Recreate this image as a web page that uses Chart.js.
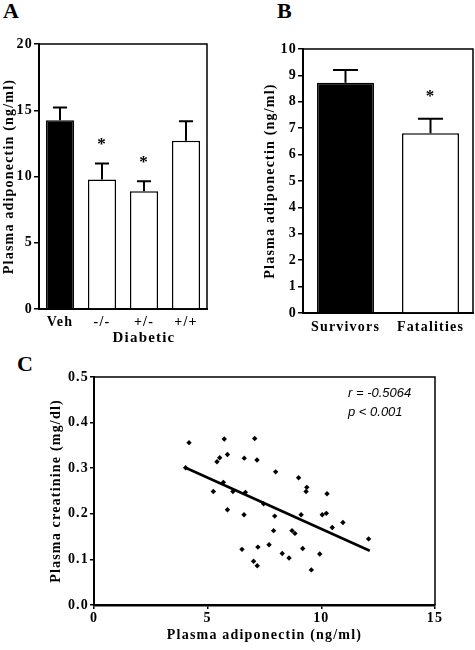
<!DOCTYPE html>
<html>
<head>
<meta charset="utf-8">
<script src="https://cdn.jsdelivr.net/npm/chart.js@4.4.0/dist/chart.umd.min.js"></script>
<style>
body { margin: 0; background: #fff; width: 475px; height: 650px; position: relative; overflow: hidden; }
canvas { position: absolute; }
.lbl { position: absolute; font: bold 22px 'Liberation Serif', serif; line-height: 22px; }
</style>
</head>
<body>
<div class="lbl" style="left:3px;top:0px">A</div>
<div class="lbl" style="left:277px;top:0px">B</div>
<div class="lbl" style="left:17px;top:353px">C</div>
<canvas id="chartA" width="235" height="345" style="left:0;top:0"></canvas>
<canvas id="chartB" width="240" height="345" style="left:235px;top:0"></canvas>
<canvas id="chartC" width="475" height="310" style="left:0;top:340px"></canvas>
<script>
// panel A - adiponectin by group
const aCats = ['Veh', '-/-', '+/-', '+/+'];
const aMeans = [14.25, 9.78, 8.88, 12.7];
const aErr = [0.95, 1.2, 0.77, 1.47];
const aStars = ['', '*', '*', ''];

// panel B - survivors vs fatalities
const bCats = ['Survivors', 'Fatalities'];
const bMeans = [8.72, 6.81];
const bErr = [0.48, 0.55];
const bStars = ['', '*'];

// panel C - creatinine vs adiponectin
const cX = [4.03, 4.18, 5.25, 5.41, 5.53, 5.73, 5.69, 5.87, 5.87, 6.11, 6.51, 6.61, 6.66, 6.60,
    7.02, 7.07, 7.17, 7.18, 7.21, 7.46, 7.70, 7.90, 7.95, 7.99, 8.28, 8.58, 8.71, 8.84,
    9.00, 9.11, 9.18, 9.36, 9.33, 9.56, 9.93, 10.04, 10.22, 10.25, 10.48, 10.95, 12.08];
const cY = [0.301, 0.356, 0.249, 0.314, 0.323, 0.364, 0.269, 0.330, 0.209, 0.249, 0.122, 0.322, 0.247, 0.198,
    0.096, 0.365, 0.318, 0.086, 0.127, 0.222, 0.132, 0.163, 0.195, 0.292, 0.113, 0.103, 0.163, 0.157,
    0.279, 0.198, 0.124, 0.258, 0.249, 0.077, 0.112, 0.198, 0.201, 0.244, 0.170, 0.181, 0.145];
const fitX = [4.03, 12.13];
const fitY = [0.301, 0.119];
const statText = ['r = -0.5064', 'p < 0.001'];

const SERIF = "'Liberation Serif', 'Times New Roman', serif";
Chart.defaults.color = '#000';
Chart.defaults.animation = false;

const tickFont = { family: SERIF, weight: 'bold', size: 14 };
const titleFont = { family: SERIF, weight: 'bold', size: 14 };

// box around plot + letter spacing for the serif text
const framePlugin = {
    id: 'frame',
    beforeLayout(chart) { chart.ctx.letterSpacing = '1.2px'; },
    beforeDraw(chart) { chart.ctx.letterSpacing = '1.2px'; },
    afterDraw(chart) {
        const a = chart.chartArea;
        const ctx = chart.ctx;
        ctx.save();
        ctx.strokeStyle = '#000';
        ctx.lineWidth = 1.5;
        ctx.beginPath();
        ctx.moveTo(a.left, a.top);
        ctx.lineTo(a.right, a.top);
        ctx.lineTo(a.right, a.bottom);
        ctx.stroke();
        ctx.restore();
    }
};

// upper error bars and significance stars
const errPlugin = {
    id: 'errbars',
    afterDatasetsDraw(chart, args, opts) {
        if (!opts.err) return;
        const ctx = chart.ctx;
        const y = chart.scales.y;
        const vals = chart.data.datasets[0].data;
        ctx.save();
        ctx.strokeStyle = '#000';
        ctx.fillStyle = '#000';
        ctx.lineWidth = 2;
        chart.getDatasetMeta(0).data.forEach((bar, i) => {
            const top = y.getPixelForValue(vals[i] + opts.err[i]);
            const half = bar.width * opts.cap;
            ctx.beginPath();
            ctx.moveTo(bar.x, bar.y);
            ctx.lineTo(bar.x, top);
            ctx.moveTo(bar.x - half, top);
            ctx.lineTo(bar.x + half, top);
            ctx.stroke();
            if (opts.stars[i]) {
                ctx.font = 'bold 17px ' + SERIF;
                ctx.textAlign = 'center';
                ctx.textBaseline = 'middle';
                ctx.fillText(opts.stars[i], bar.x, top - opts.gap);
            }
        });
        if (opts.group) {
            const x = chart.scales.x;
            const idx = opts.group.items;
            let cx = 0;
            idx.forEach(i => cx += x.getPixelForTick(i));
            cx /= idx.length;
            ctx.font = 'bold 15px ' + SERIF;
            ctx.textAlign = 'center';
            ctx.textBaseline = 'middle';
            ctx.fillText(opts.group.text, cx, chart.chartArea.bottom + 29);
        }
        ctx.restore();
    }
};

function barChart(id, cats, means, err, stars, colors, yMax, step, sizes, extra) {
    return new Chart(document.getElementById(id), {
        type: 'bar',
        data: {
            labels: cats,
            datasets: [{
                data: means,
                backgroundColor: colors,
                borderColor: '#000',
                borderWidth: 1.5,
                borderSkipped: 'bottom',
                barPercentage: 0.67,
                categoryPercentage: 1,
            }]
        },
        options: {
            responsive: false,
            layout: { padding: sizes.pad },
            plugins: {
                legend: { display: false },
                tooltip: { enabled: false },
                errbars: Object.assign({ err: err, stars: stars }, extra),
            },
            scales: {
                x: {
                    grid: { display: false, drawTicks: false },
                    border: { color: '#000', width: 2 },
                    ticks: { font: tickFont, padding: sizes.xPad },
                    afterFit(s) { s.height = sizes.xH; }
                },
                y: {
                    min: 0,
                    max: yMax,
                    ticks: { stepSize: step, font: tickFont, padding: 1 },
                    grid: { drawOnChartArea: false, color: '#000', lineWidth: 1.5, tickLength: 5 },
                    border: { color: '#000', width: 2 },
                    title: {
                        display: true,
                        text: 'Plasma adiponectin (ng/ml)',
                        font: titleFont,
                        padding: { top: sizes.tPad, bottom: 0 }
                    },
                    afterFit(s) { s.width = sizes.yW; }
                }
            }
        },
        plugins: [framePlugin, errPlugin]
    });
}

barChart('chartA', aCats, aMeans, aErr, aStars, ['#000', '#fff', '#fff', '#fff'], 20, 5,
    { pad: { top: 44, right: 28, left: 0, bottom: 0 }, xH: 36, xPad: 5, yW: 39, tPad: 0.5 },
    { cap: 0.25, gap: 19, group: { text: 'Diabetic', items: [1, 2, 3] } });

barChart('chartB', bCats, bMeans, bErr, bStars, ['#000', '#fff'], 10, 1,
    { pad: { top: 49, right: 2, left: 0, bottom: 0 }, xH: 32, xPad: 6, yW: 68, tPad: 27 },
    { cap: 0.22, gap: 22 });

// r / p annotation
const statPlugin = {
    id: 'stat',
    afterDraw(chart) {
        const ctx = chart.ctx;
        const a = chart.chartArea;
        ctx.save();
        ctx.letterSpacing = '0px';
        ctx.font = "italic 13px 'Liberation Sans', Arial, sans-serif";
        ctx.fillStyle = '#000';
        ctx.textAlign = 'left';
        ctx.textBaseline = 'middle';
        ctx.fillText(statText[0], a.right - 87, a.top + 16);
        ctx.fillText(statText[1], a.right - 87, a.top + 35);
        ctx.restore();
    }
};

new Chart(document.getElementById('chartC'), {
    type: 'scatter',
    data: {
        datasets: [
            {
                data: cX.map((x, i) => ({ x: x, y: cY[i] })),
                pointStyle: 'rectRot',
                pointRadius: 2.7,
                backgroundColor: '#000',
                borderWidth: 0,
            },
            {
                data: fitX.map((x, i) => ({ x: x, y: fitY[i] })),
                showLine: true,
                borderColor: '#000',
                borderWidth: 2.5,
                pointRadius: 0,
            }
        ]
    },
    options: {
        responsive: false,
        layout: { padding: { top: 37, right: 40, left: 0, bottom: 0 } },
        plugins: { legend: { display: false }, tooltip: { enabled: false } },
        scales: {
            x: {
                type: 'linear',
                min: 0,
                max: 15,
                ticks: { stepSize: 5, font: tickFont, padding: 1 },
                grid: { drawOnChartArea: false, color: '#000', lineWidth: 1.5, tickLength: 4 },
                border: { color: '#000', width: 2.5 },
                title: {
                    display: true,
                    text: 'Plasma adiponectin (ng/ml)',
                    font: titleFont,
                    padding: { top: 0, bottom: 6 }
                },
                afterFit(s) { s.height = 45; }
            },
            y: {
                min: 0,
                max: 0.5,
                ticks: { stepSize: 0.1, font: tickFont, padding: 1, callback: v => v.toFixed(1) },
                grid: { drawOnChartArea: false, color: '#000', lineWidth: 1.5, tickLength: 4 },
                border: { color: '#000', width: 2 },
                title: {
                    display: true,
                    text: 'Plasma creatinine (mg/dl)',
                    font: titleFont,
                    padding: { top: 47.5, bottom: 0 }
                },
                afterFit(s) { s.width = 94; }
            }
        }
    },
    plugins: [framePlugin, statPlugin]
});
</script>
</body>
</html>
